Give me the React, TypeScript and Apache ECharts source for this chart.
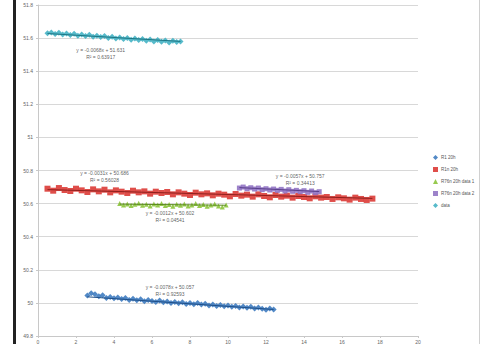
import React, { useEffect, useRef } from "react";
import * as echarts from "echarts";

const seriesNames = ["R1 20h", "R1n 20h", "R76n 20h data 1", "R76n 20h data 2", "data"];
const seriesColors = ["#3f7cc0", "#dc3b36", "#8cc43c", "#9276c4", "#45b3c4"];
const trendColors = ["#1f4f88", "#8e1f1c", "#5a8a1e", "#5a3f8a", "#1e7684"];
const seriesSymbols = ["diamond", "rect", "triangle", "rect", "diamond"];
const symbolSizes = [6, 6, 5, 5, 6];

const r1Data: number[][] = [
  [2.6, 50.045], [2.8, 50.058], [3.0, 50.052], [3.2, 50.040], [3.4, 50.046], [3.6, 50.030], [3.8, 50.036], [4.0, 50.028],
  [4.2, 50.033], [4.4, 50.024], [4.6, 50.030], [4.8, 50.018], [5.0, 50.025], [5.2, 50.016], [5.4, 50.022], [5.6, 50.010],
  [5.8, 50.018], [6.0, 50.012], [6.2, 50.006], [6.4, 50.014], [6.6, 50.004], [6.8, 50.009], [7.0, 50.000], [7.2, 50.006],
  [7.4, 49.998], [7.6, 50.004], [7.8, 49.994], [8.0, 49.999], [8.2, 49.992], [8.4, 50.000], [8.6, 49.990], [8.8, 49.995],
  [9.0, 49.985], [9.2, 49.990], [9.4, 49.982], [9.6, 49.988], [9.8, 49.980], [10.0, 49.984], [10.2, 49.976], [10.4, 49.982],
  [10.6, 49.972], [10.8, 49.978], [11.0, 49.970], [11.2, 49.976], [11.4, 49.966], [11.6, 49.972], [11.8, 49.964], [12.0, 49.958],
  [12.2, 49.966], [12.4, 49.960],
];

const r1nData: number[][] = [
  [0.5, 50.690], [0.8, 50.678], [1.1, 50.694], [1.4, 50.682], [1.7, 50.676], [2.0, 50.690], [2.3, 50.680], [2.6, 50.670],
  [2.9, 50.686], [3.2, 50.674], [3.5, 50.684], [3.8, 50.668], [4.1, 50.680], [4.4, 50.672], [4.7, 50.664], [5.0, 50.678],
  [5.3, 50.668], [5.6, 50.674], [5.9, 50.660], [6.2, 50.672], [6.5, 50.664], [6.8, 50.670], [7.1, 50.656], [7.4, 50.668],
  [7.7, 50.660], [8.0, 50.652], [8.3, 50.666], [8.6, 50.656], [8.9, 50.662], [9.2, 50.650], [9.5, 50.660], [9.8, 50.654],
  [10.1, 50.644], [10.4, 50.658], [10.7, 50.648], [11.0, 50.654], [11.3, 50.642], [11.6, 50.656], [11.9, 50.646], [12.2, 50.638],
  [12.5, 50.652], [12.8, 50.642], [13.1, 50.648], [13.4, 50.636], [13.7, 50.646], [14.0, 50.640], [14.3, 50.632], [14.6, 50.644],
  [14.9, 50.636], [15.2, 50.640], [15.5, 50.628], [15.8, 50.638], [16.1, 50.632], [16.4, 50.624], [16.7, 50.636], [17.0, 50.628],
  [17.3, 50.622], [17.6, 50.630],
];

const r76d1Data: number[][] = [
  [4.3, 50.600], [4.5, 50.592], [4.7, 50.598], [4.9, 50.588], [5.1, 50.596], [5.3, 50.602], [5.5, 50.590], [5.7, 50.596],
  [5.9, 50.586], [6.1, 50.598], [6.3, 50.592], [6.5, 50.600], [6.7, 50.588], [6.9, 50.594], [7.1, 50.584], [7.3, 50.596],
  [7.5, 50.590], [7.7, 50.598], [7.9, 50.586], [8.1, 50.592], [8.3, 50.600], [8.5, 50.588], [8.7, 50.594], [8.9, 50.584],
  [9.1, 50.592], [9.3, 50.598], [9.5, 50.586], [9.7, 50.580], [9.9, 50.592],
];

const r76d2Data: number[][] = [
  [10.6, 50.694], [10.8, 50.700], [11.0, 50.690], [11.2, 50.696], [11.4, 50.688], [11.6, 50.694], [11.8, 50.684], [12.0, 50.690],
  [12.2, 50.682], [12.4, 50.688], [12.6, 50.680], [12.8, 50.686], [13.0, 50.676], [13.2, 50.684], [13.4, 50.674], [13.6, 50.680],
  [13.8, 50.672], [14.0, 50.678], [14.2, 50.668], [14.4, 50.676], [14.6, 50.666], [14.8, 50.672],
];

const dataData: number[][] = [
  [0.5, 51.630], [0.7, 51.634], [0.9, 51.625], [1.1, 51.632], [1.3, 51.622], [1.5, 51.628], [1.7, 51.618], [1.9, 51.626],
  [2.1, 51.614], [2.3, 51.622], [2.5, 51.612], [2.7, 51.620], [2.9, 51.608], [3.1, 51.614], [3.3, 51.606], [3.5, 51.612],
  [3.7, 51.600], [3.9, 51.608], [4.1, 51.598], [4.3, 51.604], [4.5, 51.594], [4.7, 51.601], [4.9, 51.590], [5.1, 51.598],
  [5.3, 51.588], [5.5, 51.594], [5.7, 51.584], [5.9, 51.592], [6.1, 51.580], [6.3, 51.588], [6.5, 51.578], [6.7, 51.585],
  [6.9, 51.574], [7.1, 51.584], [7.3, 51.576], [7.5, 51.580],
];

const allData = [r1Data, r1nData, r76d1Data, r76d2Data, dataData];

const trendSlopes = [-0.0078, -0.0031, -0.0012, -0.0057, -0.0068];
const trendIntercepts = [50.057, 50.686, 50.602, 50.757, 51.631];
const trendLabels = [
  ["y = -0.0078x + 50.057", "R² = 0.92593"],
  ["y = -0.0031x + 50.686", "R² = 0.56028"],
  ["y = -0.0012x + 50.602", "R² = 0.04541"],
  ["y = -0.0057x + 50.757", "R² = 0.34413"],
  ["y = -0.0068x + 51.631", "R² = 0.63917"],
];
// label anchor in data coords (x, y)
const labelAnchors = [
  [6.95, 50.072],
  [3.5, 50.765],
  [6.95, 50.522],
  [13.8, 50.745],
  [3.3, 51.504],
];

const yTicks = ["49.8", "50", "50.2", "50.4", "50.6", "50.8", "51", "51.2", "51.4", "51.6", "51.8"];

export default function App() {
  const ref = useRef<HTMLDivElement>(null);
  useEffect(() => {
    if (!ref.current) return;
    const chart = echarts.init(ref.current, undefined, { renderer: "svg" });
    const series: any[] = [];
    allData.forEach((d, i) => {
      series.push({
        name: seriesNames[i],
        type: "scatter",
        data: d,
        symbol: seriesSymbols[i],
        symbolSize: symbolSizes[i],
        itemStyle: { color: seriesColors[i], opacity: 0.9 },
        z: 2,
      });
    });
    allData.forEach((d, i) => {
      const xs = d.map((p) => p[0]);
      const x0 = Math.min(...xs);
      const x1 = Math.max(...xs);
      series.push({
        name: seriesNames[i] + " trend",
        type: "line",
        data: [
          [x0, trendIntercepts[i] + trendSlopes[i] * x0],
          [x1, trendIntercepts[i] + trendSlopes[i] * x1],
        ],
        symbol: "none",
        lineStyle: { color: trendColors[i], width: 1 },
        z: 3,
        silent: true,
      });
    });
    series.push({
      name: "labels",
      type: "scatter",
      data: labelAnchors.map((a, i) => ({ value: a, idx: i })),
      symbolSize: 0,
      silent: true,
      label: {
        show: true,
        position: "inside",
        formatter: (p: any) => trendLabels[p.dataIndex][0] + "\n" + trendLabels[p.dataIndex][1],
        fontSize: 5,
        lineHeight: 7,
        color: "#333",
        fontFamily: "Liberation Sans",
        align: "center",
      },
      z: 5,
    });
    chart.setOption({
      animation: false,
      backgroundColor: "#fff",
      grid: { left: 38, right: 65, top: 5, bottom: 7, containLabel: false },
      legend: {
        orient: "vertical",
        left: 428,
        top: 150,
        itemWidth: 5,
        itemHeight: 5,
        itemGap: 7,
        data: seriesNames,
        textStyle: { fontSize: 4.5, color: "#555", fontFamily: "Liberation Sans", padding: [0, 0, 0, -2] },
      },
      xAxis: {
        type: "value",
        min: 0,
        max: 20,
        interval: 2,
        splitLine: { show: false },
        axisLine: { show: true, lineStyle: { color: "#c8c8c8" } },
        axisTick: { show: true, length: 2, lineStyle: { color: "#c8c8c8" } },
        axisLabel: { fontSize: 5, color: "#666", margin: 3, fontFamily: "Liberation Sans" },
      },
      yAxis: {
        type: "value",
        min: 49.8,
        max: 51.8,
        interval: 0.2,
        splitLine: { show: true, lineStyle: { color: "#d8d8d8", width: 1 } },
        axisLine: { show: true, lineStyle: { color: "#c8c8c8" } },
        axisTick: { show: true, length: 2, lineStyle: { color: "#c8c8c8" } },
        axisLabel: {
          fontSize: 5,
          color: "#666",
          margin: 5,
          fontFamily: "Liberation Sans",
          formatter: (v: number) => {
            const idx = Math.round((v - 49.8) / 0.2);
            return yTicks[idx] ?? "";
          },
        },
      },
      graphic: [
        { type: "rect", left: 13, top: 0, shape: { width: 3, height: 344 }, style: { fill: "#222" } },
        { type: "rect", left: 479, top: 0, shape: { width: 1, height: 344 }, style: { fill: "#d0d0d0" } },
      ],
      series,
    });
    return () => chart.dispose();
  }, []);
  return (
    <div
      ref={ref}
      style={{ position: "fixed", left: 0, top: 0, width: 483, height: 344, background: "#fff" }}
    />
  );
}
